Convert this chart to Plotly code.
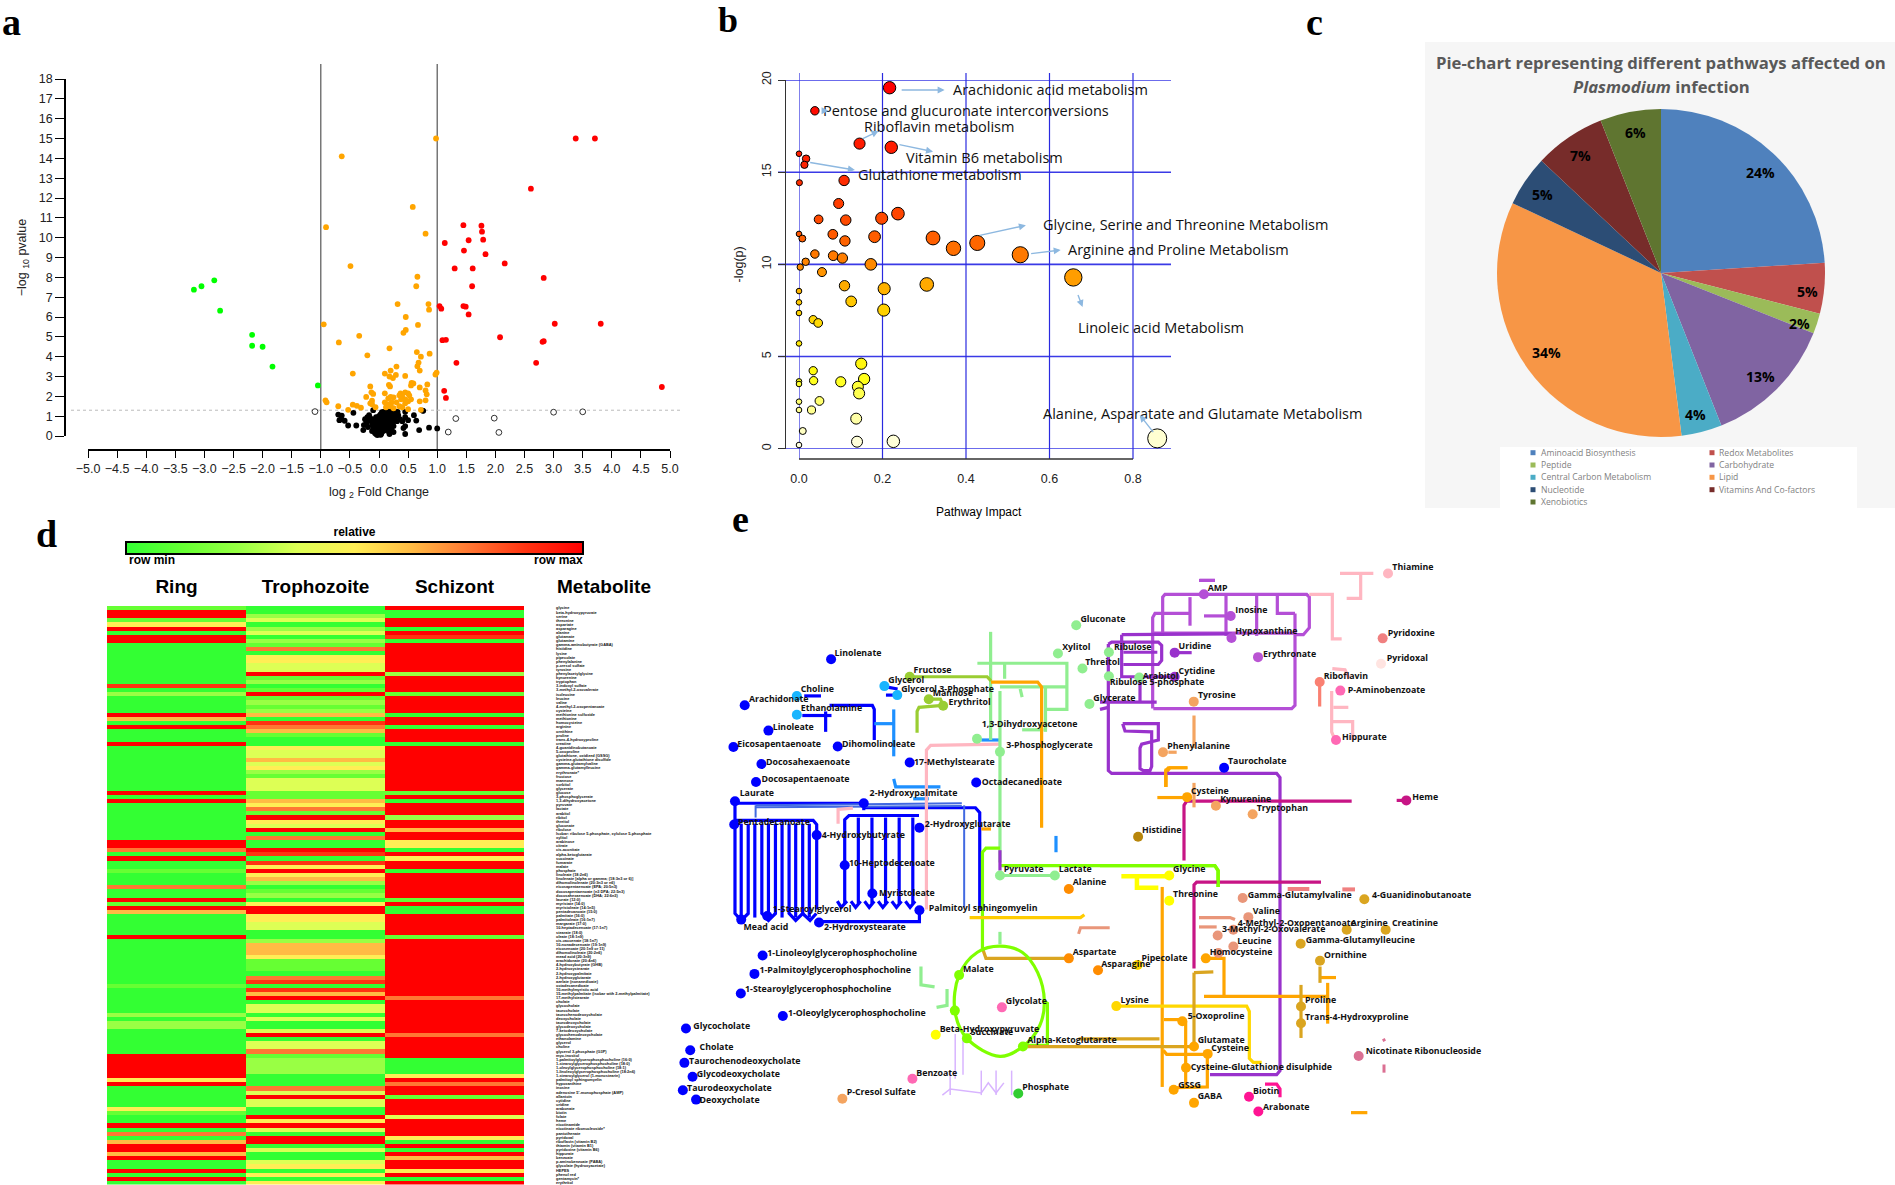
import plotly.graph_objects as go

W, H = 1895, 1185
def fx(x): return x / W
def fy(y): return 1 - y / H
NARROW = "Liberation Sans Narrow, Liberation Sans, Arial"

# ---------- panel a: volcano ----------
red_x = [3.38,3.71,2.61,1.45,1.76,1.77,1.79,1.54,1.13,1.46,1.83,2.16,1.30,1.61,2.83,1.60,1.04,1.07,1.45,1.49,1.54,3.02,3.81,2.08,1.09,1.15,2.81,2.83,1.33,2.70,1.12,1.15,4.86]
red_y = [15,15,12.47,10.63,10.6,10.3,9.9,9.87,9.73,9.35,9.17,8.7,8.45,8.45,7.97,7.55,6.55,6.42,6.55,6.52,6.13,5.66,5.66,4.98,4.83,4.85,4.75,4.78,3.69,3.69,2.28,1.92,2.47]
green_x = [-3.18,-3.05,-2.83,-2.73,-2.18,-2.18,-2.0,-1.83,-1.05]
green_y = [7.38,7.55,7.85,6.32,5.1,4.55,4.5,3.5,2.55]
orange_x = [0.98,-0.64,0.58,-0.91,0.8,-0.49,0.66,0.64,0.32,0.85,0.86,0.46,-0.95,0.67,0.46,0.42,-0.34,-0.69,0.18,0.65,0.87,-0.2,0.72,0.68,0.66,0.3,0.7,0.2,0.99,0.1,-0.45,0.97,0.29,0.45,0.18,0.24,0.83,0.56,0.59,0.55,0.17,0.19,-0.15,0.7,0.8,-0.13,-0.1,0.1,0.37,0.45,0.5,0.35,0.4,0.52,0.82,0.2,0.25,-0.22,0.16,0.38,0.45,0.55,0.5,0.8,0.7,-0.12,-0.92,-0.9,0.1,0.22,0.3,0.45,-0.15,-0.12,0.15,-0.45,-0.38,-0.7,-0.31,-0.06,0.12,0.2,0.35,0.4,0.25,0.5,0.72,-0.53]
orange_y = [15,14.1,11.55,10.53,10.2,8.57,8.03,7.55,6.65,6.65,6.37,6.0,5.63,5.6,5.35,5.2,5.05,4.72,4.42,4.23,4.15,4.07,4.0,3.7,3.52,3.5,3.3,3.3,3.2,3.15,3.15,3.1,3.08,3.03,3.0,2.92,2.6,2.68,2.65,2.55,2.58,2.5,2.5,2.45,2.3,2.2,2.12,2.15,2.15,2.2,2.15,2.05,1.98,2.05,2.1,1.97,1.95,1.97,1.9,1.85,1.85,1.85,1.75,1.8,1.75,1.78,1.8,1.7,1.7,1.7,1.7,1.65,1.65,1.6,1.6,1.58,1.52,1.5,1.43,1.45,1.45,1.5,1.5,1.45,1.4,1.35,1.32,1.32]
black_x = [0.75,0.76,-0.1,-0.7,-0.44,-0.64,-0.65,-0.59,-0.53,-0.39,-0.68,0.45,0.6,0.64,0.5,0.45,0.69,0.86,1.0,0.45,0.45,0.42,
 -0.24,-0.2,-0.17,-0.15,-0.13,-0.1,-0.08,-0.05,-0.27,-0.26,-0.22,-0.19,-0.16,-0.12,-0.09,-0.06,-0.03,0.0,0.02,0.05,0.08,0.11,0.14,0.17,0.2,0.23,0.26,0.29,0.32,
 0.03,0.06,0.09,0.12,0.15,0.18,0.21,0.24,0.27,0.3,0.33,0.02,0.05,0.08,0.11,0.14,0.17,0.2,0.23,0.26,0.29,-0.03,0.01,0.04,0.07,0.1,0.13,0.16,0.19,0.22,0.25,
 -0.08,-0.05,-0.02,0.01,0.03,0.06,0.09,0.12,0.15,0.18,0.21,-0.1,-0.07,-0.04,-0.01,0.02,0.05,0.08,0.11,0.14,0.17,0.25,-0.12,-0.09,-0.06,-0.03,0.0,0.03,0.06,0.09,0.12,0.2,-0.07,-0.04,-0.01,0.02,0.05,0.08,0.17,0.22,-0.05,-0.02,0.01,0.04,0.18,0.25,-0.03,0.0,0.03,0.31,0.4,0.36]
black_y = [1.28,1.27,1.3,1.08,1.17,1.03,0.85,0.77,0.53,0.53,0.8,1.22,1.05,0.78,0.8,0.95,0.3,0.42,0.38,0.1,0.5,0.4,
 0.85,0.95,1.05,0.9,0.75,0.7,0.85,0.95,0.3,0.55,0.62,0.45,0.78,0.55,0.62,0.72,0.8,1.0,1.05,1.2,1.22,1.18,1.25,1.22,1.2,1.24,1.26,1.2,1.22,
 1.1,1.05,1.08,1.12,1.1,1.06,1.12,1.08,1.1,1.12,1.05,0.9,0.92,0.95,0.92,0.98,0.95,0.92,0.98,0.95,1.0,0.7,0.72,0.8,0.75,0.82,0.78,0.8,0.85,0.82,0.75,
 0.5,0.55,0.6,0.62,0.58,0.65,0.6,0.65,0.6,0.62,0.55,0.35,0.4,0.42,0.45,0.5,0.45,0.5,0.48,0.42,0.45,0.5,0.25,0.28,0.3,0.32,0.35,0.32,0.38,0.35,0.32,0.3,0.15,0.2,0.22,0.25,0.22,0.26,0.22,0.28,0.1,0.12,0.15,0.12,0.1,0.2,0.05,0.08,0.06,0.75,0.75,0.85]
hollow_x = [-1.1,3.0,3.5,1.32,1.98,1.19,2.06]
hollow_y = [1.23,1.2,1.22,0.88,0.9,0.2,0.18]
volcano_yticks = list(range(0, 19))
volcano_xticks = [-5,-4.5,-4,-3.5,-3,-2.5,-2,-1.5,-1,-0.5,0,0.5,1,1.5,2,2.5,3,3.5,4,4.5,5]

# ---------- panel b: pathway impact ----------
impact = [.217,.038,.145,.221,0,.017,.013,.108,.001,.095,.237,.198,.047,.112,0,.081,.008,.181,.11,.321,.427,.37,.53,.038,.082,.104,.016,.172,.003,.055,.109,.204,.306,.657,0,0,.125,.203,0,.034,.046,0,.149,.034,0,0,.035,.1,.156,.141,.144,.049,0,0,.03,.137,.009,0,.139,.226,.858]
logp = [19.58,18.33,16.55,16.35,16,15.73,15.4,14.55,14.43,13.3,12.75,12.5,12.44,12.4,11.65,11.63,11.4,11.5,11.27,11.43,11.16,10.87,10.52,10.56,10.47,10.34,10.14,10.0,9.85,9.58,8.84,8.68,8.91,9.29,8.55,7.94,7.99,7.52,7.36,7.0,6.82,5.71,4.61,4.23,3.65,3.51,3.69,3.63,3.78,3.36,3.0,2.59,2.55,2.1,2.1,1.63,0.96,0.2,0.38,0.4,0.56]
pathway_labels = ["Arachidonic acid metabolism","Pentose and glucuronate interconversions","Riboflavin metabolism","Vitamin B6 metabolism","Glutathione metabolism","Glycine, Serine and Threonine Metabolism","Arginine and Proline Metabolism","Linoleic acid Metabolism","Alanine, Asparatate and Glutamate Metabolism"]
pathway_label_zx = [563,272,363,458,349,763,820,843,763]
pathway_label_zy = [270,332,378,473,524,673,749,982,1240]
pathway_arrows = [(445,270,548,270),(272,332,288,332),(358,420,400,393),(440,432,522,455),(240,486,347,510),(620,708,730,676),(735,762,808,750),(840,862,857,921),(1022,1308,985,1245)]
b_xticks = [0,0.2,0.4,0.6,0.8]
b_yticks = [0,5,10,15,20]

# ---------- panel c: pie ----------
pie_labels = ["Aminoacid Biosynthesis","Redox Metabolites","Peptide","Carbohydrate","Central Carbon Metabolism","Lipid","Nucleotide","Vitamins And Co-factors","Xenobiotics"]
pie_values = [24,5,2,13,4,34,5,7,6]
pie_colors = ["#4F81BD","#C0504D","#9BBB59","#8064A2","#4BACC6","#F79646","#2C4D75","#772C2A","#5F7530"]
pie_text_x = [1760.7,1807.3,1799,1760.7,1695.7,1546,1542.7,1580.3,1635.3]
pie_text_y = [172.3,291,323,376.7,415,352.7,194,155.3,132]

# ---------- panel d: heatmap ----------
columns = ["Ring","Trophozoite","Schizont"]
ring = [1,8,8,1,4,8,0,8,8,0,
 0,0,0,0,0,0,0,0,0,7,
 0,2,0,0,0,0,8,5,0,8,
 0,0,0,8,0,0,0,0,0,0,
 0,0,0,0,0,8,0,8,0,0,
 0,0,0,0,0,0,0,8,8,6,
 0,8,0,0,1,0,0,0,6,0,
 0,8,1,8,5,0,0,0,0,0,
 8,0,0,0,0,0,0,0,0,0,
 0,0,1,0,0,0,0,0,0,2,
 0,2,2,0,0,0,0,0,0,8,
 8,8,8,8,8,4,8,0,0,0,
 0,0,4,1,0,0,8,0,6,0,
 5,8,8,5,8,0,0,8,0,8,
 0]
trophozoite = [0,0,2,3,0,2,3,0,2,1,
 6,0,4,4,3,3,8,1,2,0,
 1,8,1,2,1,2,5,0,7,6,
 5,1,0,0,4,3,3,5,3,4,
 2,1,3,3,3,1,1,5,4,6,
 1,8,4,3,8,0,6,0,0,8,
 7,0,7,4,8,4,5,2,0,1,
 2,0,4,8,8,4,4,3,3,0,
 0,2,5,5,5,4,1,1,1,0,
 6,7,0,7,5,8,0,3,3,0,
 3,0,0,3,8,0,3,3,6,1,
 2,2,2,2,0,0,0,6,3,8,
 3,3,0,0,8,4,8,3,0,8,
 8,0,3,0,0,3,4,0,4,0,
 4]
schizont = [8,0,0,8,8,0,8,7,0,8,
 8,8,8,8,8,8,2,8,8,8,
 8,1,8,8,8,8,0,8,8,0,
 8,8,8,0,8,8,8,8,8,8,
 8,8,8,8,8,1,8,0,8,8,
 8,2,8,8,5,8,8,4,4,0,
 8,4,8,8,0,8,8,8,8,8,
 8,1,8,0,0,8,8,8,8,8,
 1,8,8,8,8,8,8,8,8,8,
 8,8,8,8,8,6,8,8,8,8,
 8,8,8,8,6,8,8,8,8,8,
 0,0,0,0,4,8,6,8,8,1,
 8,8,8,8,3,8,8,8,8,4,
 0,8,0,8,5,8,8,4,8,0,
 8]
metabolites = ["glycine","beta-hydroxypyruvate","serine","threonine","aspartate","asparagine","alanine","glutamate","glutamine","gamma-aminobutyrate (GABA)",
 "histidine","lysine","pipecolate","phenylalanine","p-cresol sulfate","tyrosine","phenylacetylglycine","kynurenine","tryptophan","3-indoxyl sulfate",
 "3-methyl-2-oxovalerate","isoleucine","leucine","valine","4-methyl-2-oxopentanoate","cysteine","methionine sulfoxide","methionine","homocysteine","arginine",
 "ornithine","proline","trans-4-hydroxyproline","creatine","4-guanidinobutanoate","5-oxoproline","glutathione, oxidized (GSSG)","cysteine-glutathione disulfide","gamma-glutamylvaline","gamma-glutamylleucine",
 "erythronate*","fructose","mannose","sorbitol","glycerate","glucose","3-phosphoglycerate","1,3-dihydroxyacetone","pyruvate","lactate",
 "arabitol","ribitol","threitol","gluconate","ribulose","Isobar: ribulose 5-phosphate, xylulose 5-phosphate","xylitol","arabinose","citrate","cis-aconitate",
 "alpha-ketoglutarate","succinate","fumarate","malate","phosphate","linoleate (18:2n6)","linolenate [alpha or gamma; (18:3n3 or 6)]","dihomolinolenate (20:3n3 or n6)","eicosapentaenoate (EPA; 20:5n3)","docosapentaenoate (n3 DPA; 22:5n3)",
 "docosahexaenoate (DHA; 22:6n3)","laurate (12:0)","myristate (14:0)","myristoleate (14:1n5)","pentadecanoate (15:0)","palmitate (16:0)","palmitoleate (16:1n7)","margarate (17:0)","10-heptadecenoate (17:1n7)","stearate (18:0)",
 "oleate (18:1n9)","cis-vaccenate (18:1n7)","10-nonadecenoate (19:1n9)","eicosenoate (20:1n9 or 11)","dihomolinoleate (20:2n6)","mead acid (20:3n9)","arachidonate (20:4n6)","4-hydroxybutyrate (GHB)","2-hydroxystearate","2-hydroxypalmitate",
 "2-hydroxyglutarate","azelate (nonanedioate)","octadecanedioate","10-methylmyristic acid","15-methylpalmitate (isobar with 2-methylpalmitate)","17-methylstearate","cholate","glycocholate","taurocholate","taurochenodeoxycholate",
 "deoxycholate","taurodeoxycholate","glycodeoxycholate","7-ketodeoxycholate","glycochenodeoxycholate","ethanolamine","glycerol","choline","glycerol 3-phosphate (G3P)","myo-inositol",
 "1-palmitoylglycerophosphocholine (16:0)","1-stearoylglycerophosphocholine (18:0)","1-oleoylglycerophosphocholine (18:1)","1-linoleoylglycerophosphocholine (18:2n6)","1-stearoylglycerol (1-monostearin)","palmitoyl sphingomyelin","hypoxanthine","inosine","adenosine 5'-monophosphate (AMP)","allantoin",
 "cytidine","uridine","arabonate","biotin","folate","heme","nicotinamide","nicotinate ribonucleoside*","pantothenate","pyridoxal",
 "riboflavin (vitamin B2)","thiamin (vitamin B1)","pyridoxine (vitamin B6)","hippurate","benzoate","p-aminobenzoate (PABA)","glycolate (hydroxyacetate)","HEPES","phenol red","gentamycin*","erythritol"]

# ---------- panel e: metabolic map ----------
BLUE="#0000FF"; SKY="#19B5FE"; OLIVE="#9ACD32"; PALE="#90EE90"; MID="#B44FD6"; DARK="#9932CC"; TAN="#F4A460"; ORG="#FFA500"
YEL="#FFFF00"; GOLD="#FFD700"; DGOLD="#DAA520"; LIME="#7FFF00"; SALM="#E9967A"; PINK="#FF69B4"; DPINK="#FF1493"; MAG="#C71585"; LPINK="#FFB6C1"
nodes_left = [
 ("Linolenate",414,292,423,278,BLUE),("Arachidonate",192,405,203,391,BLUE),("Linoleate",253,467,264,460,BLUE),("Eicosapentaenoate",163,507,173,501,BLUE),
 ("Dihomolinoleate",431,506,442,501,BLUE),("Docosahexaenoate",235,549,247,546,BLUE),("Docosapentaenoate",221,593,235,588,BLUE),("17-Methylstearate",616,545,627,546,BLUE),
 ("Octadecanedioate",787,594,801,594,BLUE),("Laurate",167,640,179,622,BLUE),("2-Hydroxypalmitate",498,645,513,622,BLUE),("Pentadecanoate",165,697,175,693,BLUE),
 ("2-Hydroxyglutarate",641,705,655,699,BLUE),("4-Hydroxybutyrate",377,723,390,724,BLUE),("10-Heptodecenoate",449,797,460,793,BLUE),("Myristoleate",520,866,537,866,BLUE),
 ("1-Stearoylglycerol",250,921,264,907,BLUE),("Mead acid",183,930,189,951,BLUE),("2-Hydroxystearate",383,937,396,951,BLUE),("Palmitoyl sphingomyelin",641,907,665,904,BLUE),
 ("1-Linoleoylglycerophosphocholine",238,1018,250,1015,BLUE),("1-Palmitoylglycerophosphocholine",217,1063,230,1056,BLUE),("1-Stearoylglycerophosphocholine",182,1111,193,1103,BLUE),
 ("1-Oleoylglycerophosphocholine",290,1166,303,1161,BLUE),("Glycocholate",41,1197,60,1193,BLUE),("Cholate",52,1250,76,1245,BLUE),("Taurochenodeoxycholate",37,1281,49,1278,BLUE),
 ("Glycodeoxycholate",58,1315,69,1311,BLUE),("Taurodeoxycholate",33,1348,44,1344,BLUE),("Deoxycholate",67,1371,76,1375,BLUE),
 ("Choline",326,382,336,368,SKY),("Ethanolamine",326,428,336,414,SKY),("Glycerol",551,358,561,345,SKY),("Glycerol 3-Phosphate",584,380,594,366,SKY),
 ("Fructose",616,335,626,321,OLIVE),("Mannose",665,390,675,376,OLIVE),("Erythritol",702,406,716,400,OLIVE),
 ("Gluconate",1044,209,1055,195,PALE),("Xylitol",997,278,1008,264,PALE),("Threitol",1060,315,1067,300,PALE),("Ribulose",1128,275,1141,264,PALE),("Arabitol",1206,337,1215,334,PALE),
 ("Ribulose 5-phosphate",1128,334,1130,351,PALE),("Glycerate",1078,402,1088,389,PALE),("1,3-Dihydroxyacetone",789,487,801,454,PALE),("3-Phosphoglycerate",848,519,864,505,PALE),
 ("Pyruvate",848,822,858,808,PALE),("Lactate",989,822,999,808,PALE),
 ("AMP",1372,133,1382,120,MID),("Inosine",1441,186,1453,173,MID),("Hypoxanthine",1443,240,1453,226,MID),("Uridine",1297,276,1307,262,DARK),("Cytidine",1297,335,1307,322,DARK),
 ("Tyrosine",1346,396,1357,382,TAN),("Phenylalanine",1267,520,1278,507,TAN),("Taurocholate",1424,558,1434,544,BLUE),("Cysteine",1329,630,1339,617,ORG),("Kynurenine",1403,651,1414,637,TAN),
 ("Histidine",1203,727,1213,713,"#B8860B"),("Glycine",1283,822,1293,808,YEL),("Threonine",1283,884,1293,870,YEL),("Alanine",1025,855,1035,841,"#FF8C00"),("Aspartate",1025,1025,1035,1011,"#FF8C00"),
 ("Asparagine",1100,1054,1108,1040,"#FF8C00"),("Pipecolate",1202,1041,1212,1027,GOLD),("Lysine",1147,1142,1158,1128,GOLD),("Homocysteine",1377,1025,1387,1012,ORG),
 ("Malate",743,1066,753,1053,LIME),("Glycolate",853,1145,863,1132,PINK),("Beta-Hydroxypyruvate",683,1212,693,1199,YEL),("Succinate",763,1221,773,1208,LIME),("Alpha-Ketoglutarate",907,1241,918,1228,LIME),
 ("",732,1153,732,1153,LIME),("Benzoate",623,1320,633,1307,PINK),("P-Cresol Sulfate",443,1369,454,1355,TAN),("Phosphate",895,1356,905,1342,"#32CD32")]
nodes_right = [
 ("Erythronate",474,287,489,282,"#BA55D3"),("Tryptophan",458,672,470,659,TAN),("Thiamine",864,82,877,69,LPINK),("Pyridoxine",848,241,863,229,"#F08080"),("Pyridoxal",843,303,860,291,"#FFE4E1"),
 ("Riboflavin",659,348,671,334,"#FA8072"),("P-Aminobenzoate",721,369,743,369,PINK),("Hippurate",708,490,726,484,PINK),("Heme",919,638,937,632,MAG),
 ("Gamma-Glutamylvaline",428,877,443,872,SALM),("Valine",445,924,458,910,SALM),("4-Methyl-2-Oxopentanoate",400,955,413,941,SALM),("3-Methyl-2-Oxovalerate",353,969,366,956,SALM),
 ("Leucine",400,996,412,984,SALM),("",355,1012,355,1012,SALM),("4-Guanidinobutanoate",793,880,816,872,DGOLD),("Arginine",740,955,752,941,DGOLD),("Creatinine",857,955,876,941,DGOLD),
 ("Gamma-Glutamylleucine",602,989,617,983,DGOLD),("Ornithine",660,1031,672,1018,DGOLD),("Proline",603,1143,615,1129,DGOLD),("Trans-4-Hydroxyproline",603,1184,615,1170,DGOLD),
 ("5-Oxoproline",247,1179,263,1167,ORG),("Glutamate",282,1241,293,1228,ORG),("Cysteine",323,1259,334,1246,ORG),("Cysteine-Glutathione disulphide",258,1293,272,1292,ORG),
 ("GSSG",221,1347,235,1337,ORG),("GABA",282,1379,293,1365,ORG),("Nicotinate Ribonucleoside",776,1264,797,1253,"#DB7093"),("Biotin",447,1364,459,1351,DPINK),("Arabonate",475,1400,489,1392,DPINK)]
edges_left = {
 (BLUE,3.2): [[(167,640),(167,697)],[(167,645),(498,645)],[(498,645),(498,662)],[(498,656),(785,656),(796,668),(796,905)],[(165,687),(368,687),(377,697),(377,905)],
   [(167,690),(167,915),(183,932),(201,915),(201,695)],[(236,695),(236,915),(253,932),(271,915),(271,695)],[(306,695),(306,915),(323,932),(341,915),(341,695)],[(376,915),(360,932),(341,915)],
   [(183,695),(183,930)],[(218,695),(218,925)],[(253,695),(253,925)],[(288,695),(288,925)],[(323,695),(323,925)],[(358,695),(358,925)],
   [(449,890),(449,685),(460,675),(640,675)],[(484,890),(484,680)],[(519,890),(519,680)],[(554,890),(554,680)],[(589,890),(589,680)],[(624,890),(624,680)],
   [(430,885),(440,900),(455,885)],[(465,885),(477,900),(490,885)],[(500,885),(512,900),(525,885)],[(535,885),(547,900),(560,885)],[(570,885),(582,900),(595,885)],[(605,885),(617,900),(630,885)],
   [(383,935),(641,935),(641,907)],[(345,382),(388,382)],[(340,430),(415,430)],[(400,420),(400,470)],[(410,405),(520,405),(525,415),(525,490)],[(555,360),(585,365)],[(555,380),(585,380)]],
 ("#4169E1",2.0): [[(220,650),(750,645)],[(220,655),(750,652)],[(756,650),(756,900)],[(220,650),(220,680)]],
 ("#1E90FF",3.2): [[(525,450),(575,450)],[(575,415),(575,530)],[(575,585),(580,605),(695,605)],[(800,490),(848,490)],[(625,634),(665,634)],[(992,725),(992,765)]],
 (LPINK,3.2): [[(848,500),(670,503),(659,515),(659,905)],[(432,695),(432,660),(470,657)]],
 (PALE,3.2): [[(824,225),(824,490)],[(790,302),(1020,302),(1020,415),(965,415)],[(848,360),(1020,360)],[(848,370),(848,790)],[(860,302),(860,340)],[(900,365),(905,385)],[(905,465),(960,465)],[(965,360),(965,470)],[(848,822),(989,822)],
   [(645,1045),(645,1090),(680,1095)],[(712,1100),(712,1140),(685,1145)],[(848,960),(848,990)]],
 (OLIVE,3.2): [[(616,335),(815,335),(825,345)],[(665,390),(695,390),(702,405),(640,410),(635,420),(635,472)]],
 (ORG,3.2): [[(825,348),(945,348),(955,360),(955,705)],[(800,708),(825,708)],[(1265,850),(1265,1340)],[(1275,560),(1275,605)],[(1275,570),(1285,558),(1330,558)]],
 (LIME,3.2): [[(803,1000),(803,765),(812,755),(848,755)],[(848,798),(1400,798),(1408,810),(1408,850)],[(962,1130),(970,1135),(970,1238),(907,1238)]],
 (DGOLD,3.2): [[(803,1000),(812,1025),(1025,1025)],[(918,1241),(1345,1241)],[(1050,1222),(1258,1222)]],
 ("#FFCC00",3.2): [[(770,925),(1055,925),(1065,918)]],
 (SALM,3.0): [[(1050,965),(1055,950),(1130,950)]],
 ("#D8B4FF",1.5): [[(733,1210),(733,1320)],[(753,1220),(753,1310)],[(700,1360),(720,1345),(800,1355),(818,1330),(838,1355),(858,1330)],[(720,1300),(720,1360)],[(800,1300),(800,1360)],[(838,1300),(838,1360)],[(878,1300),(878,1360)]],
 (YEL,4.5): [[(1160,824),(1283,824)],[(1200,825),(1200,852),(1255,852)]],
 (MID,3.2): [[(1362,99),(1400,99)]],
 (DARK,3.2): [[(848,760),(848,810)]],
}
tca_x = [848,905,945,962,950,907,848,763,732,743,790,848]
tca_y = [995,1010,1060,1130,1190,1241,1265,1221,1153,1066,1010,995]
edges_right = {
 (MID,3.2): [[(188,230),(188,140),(195,133),(620,133),(628,140),(628,215),(610,232),(585,232)],[(585,180),(585,405),(575,413),(160,413)],[(158,413),(158,190),(165,180),(270,180)],[(270,140),(270,210)],
   [(378,135),(378,235)],[(470,135),(470,235)],[(532,135),(532,180),(585,180)],[(312,186),(395,186)],[(160,228),(585,228)],[(297,99),(345,99)]],
 (DARK,3.2): [[(25,255),(25,565),(35,572),(530,572),(540,582),(540,1300),(530,1310),(330,1310)],[(25,255),(35,250),(175,250),(185,258),(185,295),(175,305),(70,305)],[(65,232),(395,230)],[(65,232),(65,335),(225,335)],[(70,275),(172,275)],[(120,340),(120,395)],[(0,397),(170,397)],
   [(68,450),(175,450),(175,490),(125,500),(120,510),(120,560),(130,565),(150,565),(155,555),(155,470),(75,468),(68,450)],[(0,415),(25,410)],[(225,276),(275,276)]],
 (MAG,3.2): [[(252,785),(252,650),(260,640),(755,640)],[(282,1050),(282,845),(290,838),(663,838)],[(890,638),(919,638)]],
 (ORG,3.2): [[(172,631),(260,631)],[(197,605),(197,565),(205,558),(262,558)],[(192,1175),(247,1175)],[(257,1180),(257,1340)],[(190,1250),(200,1260),(322,1260)],[(322,1262),(322,1340),(225,1342)],[(318,1025),(372,1025),(372,1118)],[(312,1118),(680,1118)],[(660,1072),(708,1072)],[(683,1085),(683,1185)],[(753,1403),(802,1403)]],
 (GOLD,3.2): [[(48,1142),(440,1142),(448,1155),(448,1270),(460,1280),(485,1280)]],
 (DGOLD,3.2): [[(282,1060),(340,1058)],[(282,1060),(282,1240)],[(603,1090),(603,1220)],[(660,1045),(660,1085)]],
 (TAN,3.2): [[(282,430),(282,510)],[(205,520),(230,520)],[(282,595),(282,655)]],
 (LPINK,3.2): [[(628,133),(697,133),(697,242),(725,242)],[(720,82),(820,82)],[(782,85),(782,143),(740,143)],[(697,315),(735,318),(748,340)],[(695,370),(695,470),(705,490)],[(700,410),(745,410)],[(697,445),(758,445),(758,490)]],
 ("#FA8072",3.2): [[(659,348),(659,408)]],
 (SALM,3.2): [[(297,925),(390,925),(405,930)],[(297,948),(350,948)]],
 ("#F08080",4.0): [[(563,855),(628,855)],[(727,856),(765,856)]],
 ("#DB7093",3.0): [[(852,1285),(852,1305)],[(850,1222),(854,1228)]],
 (DPINK,3.2): [[(495,1333),(530,1333),(540,1345),(540,1365)]],
 (LIME,3.2): [[(0,798),(345,798),(355,810),(355,850)]],
}
def z5x(x): return 670 + x / 2.57
def z5y(y): return 540 + y / 2.45
def z6x(x): return 1100 + x / 3
def z2x(x): return 700 + x / 2.24
def z2y(y): return y / 3

fig = go.Figure()

# --- a
def scat(x, y, color, line=None):
    return go.Scatter(x=x, y=y, mode="markers", xaxis="x", yaxis="y", cliponaxis=False,
                      marker=dict(color=color, size=5.8, line=dict(color=line or color, width=0.8 if line else 0)), showlegend=False)
fig.add_trace(scat(black_x, black_y, "#000000"))
fig.add_trace(scat(orange_x, orange_y, "#FFA500"))
fig.add_trace(scat(red_x, red_y, "#FF0000"))
fig.add_trace(scat(green_x, green_y, "#00FF00"))
fig.add_trace(scat(hollow_x, hollow_y, "#FFFFFF", "#000000"))

# --- b
fig.add_trace(go.Scatter(x=impact, y=logp, mode="markers", xaxis="x2", yaxis="y2", cliponaxis=False, showlegend=False,
    marker=dict(size=[5.6 + 14.5 * v ** 0.5 for v in impact], sizemode="diameter", opacity=1, color=logp, cmin=0, cmax=19.6,
                colorscale=[[0,"#FFFFE8"],[0.1,"#FFFF99"],[0.2,"#FFFF10"],[0.4,"#FFCC00"],[0.48,"#FF9900"],[0.6,"#FF5500"],[0.72,"#FF3000"],[1,"#FF0000"]],
                line=dict(color="#000000", width=1), showscale=False)))

# --- c
fig.add_trace(go.Pie(labels=pie_labels, values=pie_values, sort=False, direction="clockwise", rotation=0, showlegend=False,
    marker=dict(colors=pie_colors), textinfo="none",
    domain=dict(x=[fx(1497), fx(1825)], y=[fy(437), fy(109)])))

# --- d
fig.add_trace(go.Heatmap(x=columns, y=list(range(len(metabolites))), z=[list(r) for r in zip(ring, trophozoite, schizont)],
    xaxis="x3", yaxis="y3", zmin=0, zmax=8, hoverongaps=False,
    colorscale=[[0,"#33FF33"],[0.125,"#66FF33"],[0.25,"#99FF44"],[0.375,"#DDFF55"],[0.5,"#FFEE55"],[0.625,"#FFBB44"],[0.75,"#FF7733"],[0.875,"#FF3311"],[1,"#FF0000"]],
    colorbar=dict(orientation="h", x=fx(354.5), xanchor="center", y=fy(541.5), yanchor="middle", len=457, lenmode="pixels", thickness=12, thicknessmode="pixels",
                  outlinecolor="#000000", outlinewidth=2, showticklabels=False, ticks="", xpad=0, ypad=0,
                  title=dict(text="relative", side="top", font=dict(family="Liberation Sans", size=12, weight="bold", color="#000000")))))

# --- e
def add_edges(table, xf):
    for (color, width), paths in table.items():
        xs, ys = [], []
        for p in paths:
            xs += [xf(a) for a, _ in p] + [None]
            ys += [z5y(b) for _, b in p] + [None]
        fig.add_trace(go.Scatter(x=xs, y=ys, mode="lines", xaxis="x4", yaxis="y4", showlegend=False, hoverinfo="skip",
                                 line=dict(color=color, width=width)))
add_edges(edges_left, z5x)
add_edges(edges_right, z6x)
fig.add_trace(go.Scatter(x=[z5x(v) for v in tca_x], y=[z5y(v) for v in tca_y], mode="lines", xaxis="x4", yaxis="y4", showlegend=False, hoverinfo="skip",
                         line=dict(color=LIME, width=3.2, shape="spline")))
nx = [z5x(n[1]) for n in nodes_left] + [z6x(n[1]) for n in nodes_right]
ny = [z5y(n[2]) for n in nodes_left + nodes_right]
nc = [n[5] for n in nodes_left + nodes_right]
fig.add_trace(go.Scatter(x=nx, y=ny, mode="markers", xaxis="x4", yaxis="y4", showlegend=False,
                         marker=dict(color=nc, size=10), text=[n[0] for n in nodes_left + nodes_right], hoverinfo="text"))
named_left = [n for n in nodes_left if n[0]]
named_right = [n for n in nodes_right if n[0]]
lx = [z5x(n[3]) for n in named_left] + [z6x(n[3]) for n in named_right]
ly = [z5y(n[4]) for n in named_left + named_right]
fig.add_trace(go.Scatter(x=lx, y=ly, mode="text", xaxis="x4", yaxis="y4", showlegend=False, hoverinfo="skip", cliponaxis=False,
                         text=[n[0] for n in named_left + named_right], textposition="middle right",
                         textfont=dict(family="Open Sans", size=8.8, color="#111111", weight="bold")))

# --- annotations
ann = []
def text(x, y, s, size, family=NARROW, color="#000000", xanchor="center", **kw):
    ann.append(dict(x=fx(x), y=fy(y), xref="paper", yref="paper", text=s, showarrow=False, xanchor=xanchor, yanchor="middle",
                    font=dict(family=family, size=size, color=color), **kw))
for s, x, y, size in [("a", 11, 21.5, 38), ("b", 728, 20.5, 36), ("c", 1314, 21.5, 38), ("d", 46, 534, 38), ("e", 740, 519, 38)]:
    text(x, y, "<b>%s</b>" % s, size, family="Liberation Serif")
for s, zx, zy in zip(pathway_labels, pathway_label_zx, pathway_label_zy):
    text(z2x(zx), z2y(zy), s, 14.5, family="Open Sans", color="#111111", xanchor="left")
for a, b, c, d in pathway_arrows:
    ann.append(dict(x=fx(z2x(c)), y=fy(z2y(d)), xref="paper", yref="paper", ax=z2x(a) - z2x(c), ay=z2y(b) - z2y(d), text=" ", showarrow=True,
                    arrowhead=2, arrowsize=1, arrowwidth=1.4, arrowcolor="#8DB8E0"))
text(978.6, 512, "Pathway Impact", 12)
text(1661, 63, "<b>Pie-chart representing different pathways affected on</b>", 16.7, family="Open Sans", color="#595959")
text(1661, 87, "<b><i>Plasmodium</i> infection</b>", 16.7, family="Open Sans", color="#595959")
for v, x, y in zip(pie_values, pie_text_x, pie_text_y):
    text(x, y, "<b>%d%%</b>" % v, 14, family="Open Sans")
legend_cols = [(1533, 1539, [0,2,4,6,8]), (1712, 1717, [1,3,5,7])]
legend_rows = [452.7, 465, 477.3, 489.7, 502]
shapes = []
for sq, tx, idx in legend_cols:
    for i, k in enumerate(idx):
        text(tx, legend_rows[i], pie_labels[k], 8.6, family="Open Sans", color="#7F7F7F", xanchor="left")
        shapes.append(dict(type="rect", xref="paper", yref="paper", x0=fx(sq-2.5), x1=fx(sq+2.5), y0=fy(legend_rows[i]+2.5), y1=fy(legend_rows[i]-2.5),
                           fillcolor=pie_colors[k], line=dict(width=0), layer="above"))
text(126.6, 559.6, "<b>row min</b>", 12, family="Liberation Sans", xanchor="left")
text(585, 559.6, "<b>row max</b>", 12, family="Liberation Sans", xanchor="right")
text(604, 586, "<b>Metabolite</b>", 19, family="Liberation Sans")

# --- shapes
shapes = [dict(type="rect", xref="paper", yref="paper", x0=fx(1425), x1=fx(1895), y0=fy(508), y1=fy(42), fillcolor="#F6F6F6", line=dict(width=0), layer="below"),
          dict(type="rect", xref="paper", yref="paper", x0=fx(1500), x1=fx(1857), y0=fy(508), y1=fy(447), fillcolor="#FFFFFF", line=dict(width=0), layer="below")] + shapes
for v in [-1, 1]:
    shapes.append(dict(type="line", xref="x", yref="paper", x0=v, x1=v, y0=fy(450), y1=fy(64), line=dict(color="#555555", width=1.2), layer="below"))
shapes.append(dict(type="line", xref="paper", yref="y", x0=fx(71), x1=fx(683), y0=1.3, y1=1.3, line=dict(color="#BBBBBB", width=1, dash="dot"), layer="below"))
for v in b_yticks:
    shapes.append(dict(type="line", xref="paper", yref="y2", x0=fx(778), x1=fx(1171), y0=v, y1=v, line=dict(color="#3A3AE6", width=1.6), layer="below"))
for v in b_xticks:
    shapes.append(dict(type="line", xref="x2", yref="paper", x0=v, x1=v, y0=fy(459), y1=fy(73), line=dict(color="#2A2AE0", width=1.2), layer="below"))
shapes.append(dict(type="line", xref="x2", yref="paper", x0=b_xticks[0], x1=b_xticks[-1], y0=fy(459), y1=fy(459), line=dict(color="#333333", width=1.4), layer="below"))

tick = dict(family=NARROW, size=12.5, color="#222222")
layout = dict(
    width=W, height=H, margin=dict(l=0, r=0, t=0, b=0, pad=0, autoexpand=False), paper_bgcolor="#FFFFFF", plot_bgcolor="rgba(0,0,0,0)", showlegend=False,
    annotations=ann, shapes=shapes,
    xaxis=dict(domain=[fx(88), fx(670)], range=[-5, 5], anchor="free", position=fy(450), showgrid=False, zeroline=False, showline=True, linecolor="#000000", linewidth=1.6,
               ticks="outside", ticklen=7, tickcolor="#000000", tickwidth=1.2, tickvals=volcano_xticks, tickformat=".1f", tickfont=tick,
               title=dict(text="log <sub>2</sub> Fold Change", font=tick, standoff=11)),
    yaxis=dict(domain=[fy(436), fy(79)], range=[0, 18], anchor="free", position=fx(65), showgrid=False, zeroline=False, showline=True, linecolor="#000000", linewidth=1.6,
               ticks="outside", ticklen=9, tickcolor="#000000", tickwidth=1.2, tickvals=volcano_yticks, tickfont=tick, tickangle=0,
               title=dict(text="−log <sub>10</sub> pvalue", font=tick, standoff=8)),
    xaxis2=dict(domain=[fx(799), fx(799 + 334 * 1.1)], range=[0, 0.88], anchor="free", position=fy(459), showgrid=False, zeroline=False, showline=False,
                ticks="", tickvals=b_xticks, tickformat=".1f", tickfont=tick, ticklabelstandoff=10),
    yaxis2=dict(domain=[fy(448.7), fy(80)], range=[0, 20], anchor="free", position=fx(785), showgrid=False, zeroline=False, showline=True, linecolor="#333333", linewidth=1.4,
                ticks="outside", ticklen=7, tickcolor="#333333", tickvals=b_yticks, tickfont=tick, tickangle=-90, ticklabelstandoff=2,
                title=dict(text="-log(p)", font=tick, standoff=12)),
    xaxis3=dict(domain=[fx(107), fx(524)], anchor="y3", side="top", showgrid=False, zeroline=False, ticks="", showline=False, ticklabelstandoff=8,
                tickfont=dict(family="Liberation Sans", size=19, weight="bold", color="#000000")),
    yaxis3=dict(domain=[fy(1184.5), fy(606)], range=[len(metabolites) - 0.5, -0.5], anchor="x3", side="right", showgrid=False, zeroline=False, ticks="", showline=False,
                tickvals=list(range(len(metabolites))), ticktext=metabolites, ticklabelstandoff=31,
                tickfont=dict(family="Liberation Sans", size=3.9, weight="bold", color="#111111")),
    xaxis4=dict(domain=[0, 1], range=[0, W], anchor="y4", visible=False),
    yaxis4=dict(domain=[0, 1], range=[H, 0], anchor="x4", visible=False),
)
fig.update_layout(**layout)
fig.write_html("out.html", config=dict(displayModeBar=False),
    post_script="document.body.style.margin='0';document.documentElement.style.overflow='hidden';var d=document.querySelector('.plotly-graph-div');d.style.position='fixed';d.style.left='0';d.style.top='0';")
